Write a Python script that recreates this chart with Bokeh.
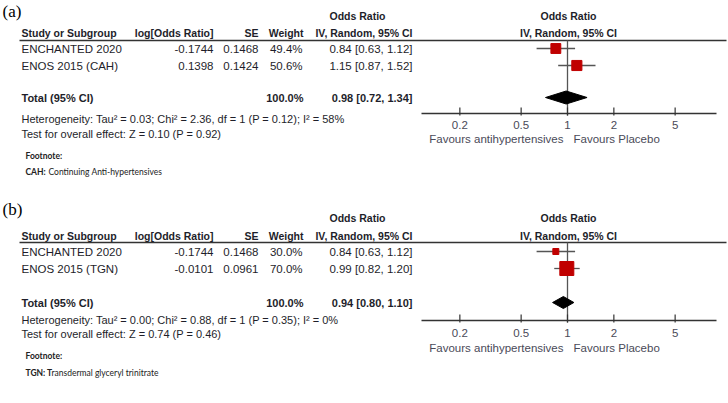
from bokeh.plotting import figure
from bokeh.models import Range1d, LogScale
from bokeh.core.properties import value
from bokeh.embed import file_html
from bokeh.resources import INLINE

# ---------------- data ----------------
ticks = [0.2, 0.5, 1, 2, 5]
tick_labels = ["0.2", "0.5", "1", "2", "5"]

a_labels = ["ENCHANTED 2020", "ENOS 2015 (CAH)"]
a_logor = [-0.1744, 0.1398]
a_se = [0.1468, 0.1424]
a_weight = [49.4, 50.6]
a_or = [0.84, 1.15]
a_lo = [0.63, 0.87]
a_hi = [1.12, 1.52]
a_total = [0.98, 0.72, 1.34]
a_het = "Heterogeneity: Tau² = 0.03; Chi² = 2.36, df = 1 (P = 0.12); I² = 58%"
a_test = "Test for overall effect: Z = 0.10 (P = 0.92)"
a_fn = ["CAH:", "Continuing Anti-hypertensives"]

b_labels = ["ENCHANTED 2020", "ENOS 2015 (TGN)"]
b_logor = [-0.1744, -0.0101]
b_se = [0.1468, 0.0961]
b_weight = [30.0, 70.0]
b_or = [0.84, 0.99]
b_lo = [0.63, 0.82]
b_hi = [1.12, 1.20]
b_total = [0.94, 0.80, 1.10]
b_het = "Heterogeneity: Tau² = 0.00; Chi² = 0.88, df = 1 (P = 0.35); I² = 0%"
b_test = "Test for overall effect: Z = 0.74 (P = 0.46)"
b_fn = ["TGN: T", "ransdermal glyceryl trinitrate"]

# ---------------- layout ----------------
W, H = 728, 403
ONE_PX = 567.0      # position of OR = 1
DEC_PX = 154.0      # pixels per decade

SANS = value("Liberation Sans")
SERIF = value("Liberation Serif")
FOOT = value("Lato")
TXT = "#1e1e2a"
GREY = "#4a4a58"
FS = "11.5px"
HS = "10.5px"

p = figure(width=W, height=H, output_backend="svg", toolbar_location=None,
           x_range=Range1d(0, W), y_range=Range1d(H, 0),
           x_axis_location=None, y_axis_location=None, min_border=0)
p.outline_line_color = None
p.xgrid.visible = False
p.ygrid.visible = False
p.background_fill_color = "white"
p.border_fill_color = "white"
p.extra_x_ranges = {"or": Range1d(10 ** ((0 - ONE_PX) / DEC_PX), 10 ** ((W - ONE_PX) / DEC_PX))}
p.extra_x_scales = {"or": LogScale()}


def txt(x, y, t, align="left", size=FS, style="normal", font=SANS, color=TXT, baseline="middle"):
    p.text(x=[x], y=[y], text=[t], text_align=align, text_baseline=baseline,
           text_font=font, text_font_size=size, text_font_style=style, text_color=color)


def panel(tag, Y, labels, logor, se, weight, orv, lo, hi, total, het, test, fn):
    txt(2, Y["label"], tag, size="17px", font=SERIF, color="black", baseline="top")
    # headers
    txt(357, Y["h1"], "Odds Ratio", align="center", style="bold", size=HS)
    txt(568, Y["h1"], "Odds Ratio", align="center", style="bold", size=HS)
    txt(21, Y["h2"], "Study or Subgroup", style="bold", size=HS)
    txt(213, Y["h2"], "log[Odds Ratio]", align="right", style="bold", size=HS)
    txt(258, Y["h2"], "SE", align="right", style="bold", size=HS)
    txt(303, Y["h2"], "Weight", align="right", style="bold", size=HS)
    txt(412, Y["h2"], "IV, Random, 95% CI", align="right", style="bold", size=HS)
    txt(568, Y["h2"], "IV, Random, 95% CI", align="center", style="bold", size=HS)
    p.segment(x0=[19], x1=[726], y0=[Y["line"]], y1=[Y["line"]], line_color="#333333", line_width=1.4)
    # rows
    for i, lab in enumerate(labels):
        y = Y["r"][i]
        txt(21, y, lab)
        txt(213, y, f"{logor[i]:.4f}", align="right")
        txt(258, y, f"{se[i]:.4f}", align="right")
        txt(302, y, f"{weight[i]:.1f}%", align="right")
        txt(412, y, f"{orv[i]:.2f} [{lo[i]:.2f}, {hi[i]:.2f}]", align="right")
    # total
    txt(21, Y["total"], "Total (95% CI)", style="bold", size="11px")
    txt(303, Y["total"], f"{sum(weight):.1f}%", align="right", style="bold", size="11px")
    txt(412, Y["total"], f"{total[0]:.2f} [{total[1]:.2f}, {total[2]:.2f}]", align="right",
        style="bold", size="11px")
    txt(21, Y["het"], het, size="11px")
    txt(21, Y["test"], test, size="11px")
    txt(25, Y["fn"], "Footnote:", size="8.5px", style="bold", font=FOOT, color="#222222")
    txt(25, Y["fn2"], fn[0], size="8.5px", style="bold", font=FOOT, color="#222222")
    txt(Y["fnx"], Y["fn2"], fn[1], size="8.5px", font=FOOT, color="#222222")

    # forest: vertical line at 1
    p.segment(x0=[1], x1=[1], y0=[Y["line"]], y1=[Y["axis"] + 2], x_range_name="or",
              line_color="#555555", line_width=1.3)
    # CI lines
    ry = Y["r"]
    p.segment(x0=lo, x1=hi, y0=ry, y1=ry, x_range_name="or", line_color="#555555", line_width=1.3)
    # squares
    p.scatter(x=orv, y=ry, marker="square", size=[w * 0.2 for w in weight], x_range_name="or",
              fill_color="#c00000", line_color="#c00000")
    # diamond
    ty = Y["total"]
    hh = Y["dh"]
    p.patch(x=[total[1], total[0], total[2], total[0]], y=[ty, ty - hh, ty, ty + hh], x_range_name="or",
            fill_color="black", line_color="black")
    # axis
    ay = Y["axis"]
    p.segment(x0=[421], x1=[716], y0=[ay], y1=[ay], line_color="#333333", line_width=1.4)
    p.segment(x0=ticks, x1=ticks, y0=[ay - 6] * len(ticks), y1=[ay + 2] * len(ticks), x_range_name="or",
              line_color="#333333", line_width=1.2)
    p.text(x=ticks, y=[Y["tl"]] * len(ticks), text=tick_labels, x_range_name="or", text_align="center",
           text_baseline="middle", text_font=SANS, text_font_size=FS, text_color=GREY)
    txt(563, Y["fav"], "Favours antihypertensives", align="right", color=GREY)
    txt(573, Y["fav"], "Favours Placebo", align="left", color=GREY)


A = dict(label=1, h1=15, h2=32, line=40, r=[48, 65], total=97, het=118, test=133, fn=155, fn2=171,
         fnx=48, axis=113, tl=124, fav=138, dh=6.5)
B = dict(label=199, h1=217, h2=235, line=242, r=[251, 268], total=302, het=319, test=333, fn=355, fn2=372,
         fnx=51, axis=320, tl=332, fav=347, dh=6)

panel("(a)", A, a_labels, a_logor, a_se, a_weight, a_or, a_lo, a_hi, a_total, a_het, a_test, a_fn)
panel("(b)", B, b_labels, b_logor, b_se, b_weight, b_or, b_lo, b_hi, b_total, b_het, b_test, b_fn)

open("out.html", "w").write(file_html(p, INLINE))
